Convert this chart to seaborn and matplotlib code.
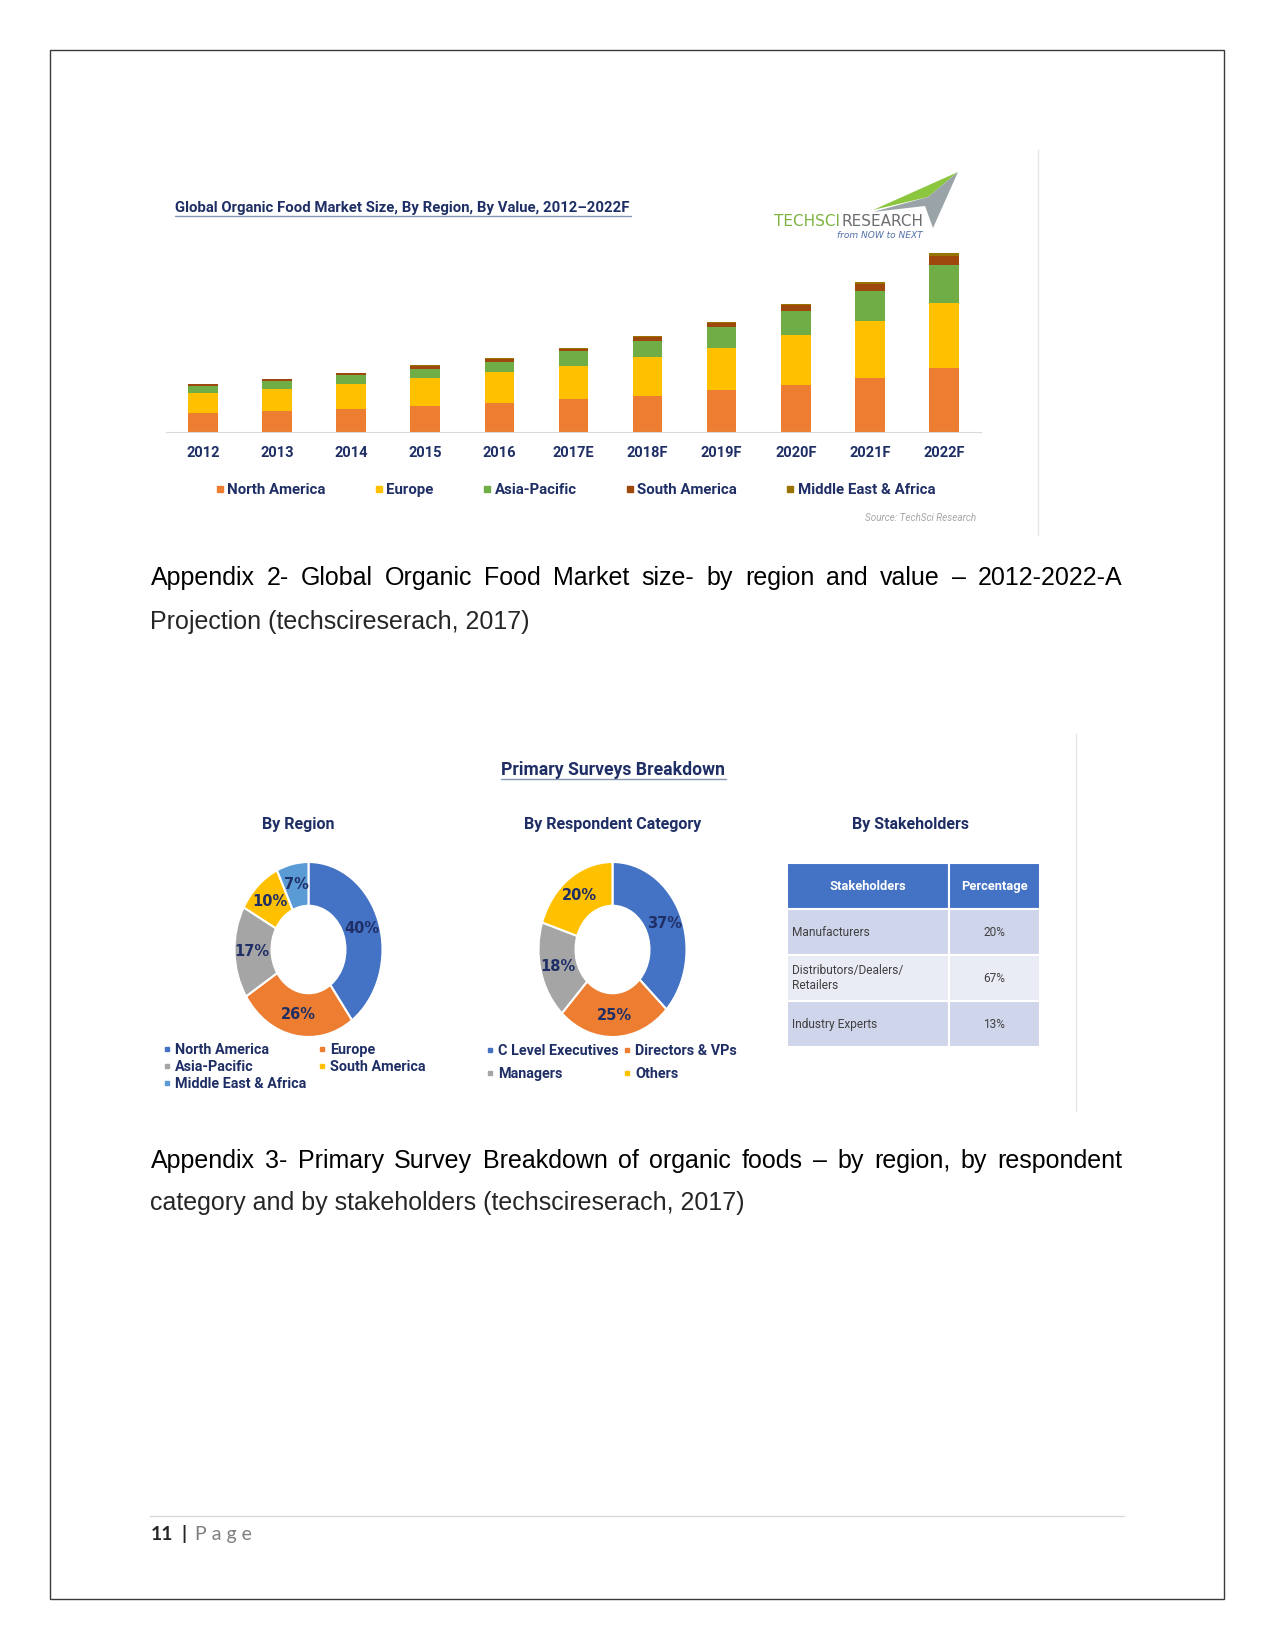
import matplotlib
matplotlib.use('Agg')
import matplotlib.pyplot as plt
from matplotlib.lines import Line2D
from matplotlib.patches import Polygon, Rectangle
import numpy as np
import pandas as pd
import seaborn as sns

# ---- data ----
years = ['2012', '2013', '2014', '2015', '2016', '2017E', '2018F', '2019F', '2020F', '2021F', '2022F']
north_america = [19, 21, 23, 26, 29, 33, 36, 42, 47, 54, 64]
europe = [20, 22, 25, 28, 31, 33, 39, 42, 50, 57, 65]
asia_pacific = [7, 8, 9, 9, 10, 15, 16, 21, 24, 30, 38]
south_america = [1.5, 1.5, 1.5, 3, 3, 2, 4, 4, 5.5, 7, 9]
middle_east_africa = [0.5, 0.5, 0.5, 1, 1, 1, 1, 1, 1.5, 2, 3]
bar_regions = ['North America', 'Europe', 'Asia-Pacific', 'South America', 'Middle East & Africa']

region_labels = ['North America', 'Europe', 'Asia-Pacific', 'South America', 'Middle East & Africa']
region_share = [40, 26, 17, 10, 7]

respondent_labels = ['C Level Executives', 'Directors & VPs', 'Managers', 'Others']
respondent_share = [37, 25, 18, 20]

stakeholders = ['Manufacturers', 'Distributors/Dealers/\nRetailers', 'Industry Experts']
stakeholder_pct = ['20%', '67%', '13%']

W, H = 1275, 1651
NAVY = '#1F2F66'
bar_colors = ['#ED7D31', '#FFC000', '#70AD47', '#9E480E', '#997300']
region_colors = ['#4472C4', '#ED7D31', '#A5A5A5', '#FFC000', '#5B9BD5']
resp_colors = ['#4472C4', '#ED7D31', '#A5A5A5', '#FFC000']

sns.set_style('white')
NARROW = ['Roboto', 'DejaVu Sans']
VERD = ['DejaVu Sans']
plt.rcParams['font.family'] = ['Liberation Sans', 'DejaVu Sans']


def rect(x0, y0, x1, y1):
    return [x0 / W, 1 - y1 / H, (x1 - x0) / W, (y1 - y0) / H]


def fx(x):
    return x / W


def fy(y):
    return 1 - y / H


fig = plt.figure(figsize=(W / 100, H / 100), dpi=100)
fig.patch.set_facecolor('white')

# page frame
fig.patches.append(Rectangle((fx(50.5), fy(1599)), (1224 - 50.5) / W, (1599 - 50.5) / H,
                             transform=fig.transFigure, fill=False, edgecolor='#3A3A3A', linewidth=1))

# ---- stacked bars ----
df = pd.DataFrame({'year': years, 'North America': north_america, 'Europe': europe,
                   'Asia-Pacific': asia_pacific, 'South America': south_america,
                   'Middle East & Africa': middle_east_africa})
cum = df[bar_regions].cumsum(axis=1)

ax = fig.add_axes(rect(166, 240, 981, 432))
for name, col in reversed(list(zip(bar_regions, bar_colors))):
    sns.barplot(x=df['year'], y=cum[name], color=col, width=0.4, saturation=1,
                errorbar=None, linewidth=0, ax=ax)
ax.set_xlim(-0.5, len(years) - 0.5)
ax.set_ylim(0, 192)
ax.set_xlabel('')
ax.set_ylabel('')
ax.set_yticks([])
for s in ['top', 'left', 'right']:
    ax.spines[s].set_visible(False)
ax.spines['bottom'].set_color('#D9D9D9')
ax.set_xticks(np.arange(-0.5, len(years), 1), minor=True)
ax.tick_params(axis='x', which='major', length=0, pad=10)
ax.tick_params(axis='x', which='minor', length=5, color='#D9D9D9', width=1)
for t in ax.get_xticklabels():
    t.set_fontfamily(NARROW)
    t.set_fontweight('bold')
    t.set_fontsize(10.5)
    t.set_color(NAVY)

handles = [Line2D([], [], marker='s', linestyle='', color=c, markersize=4.5) for c in bar_colors]
fig.legend(handles, bar_regions, loc='center left', bbox_to_anchor=(fx(216), fy(490)), ncol=5,
           frameon=False, handlelength=0.5, handletextpad=0.25, columnspacing=3.3, borderpad=0,
           borderaxespad=0, prop=dict(family=NARROW, weight='bold', size=10.8), labelcolor=NAVY)

fig.text(fx(175), fy(208), 'Global Organic Food Market Size, By Region, By Value, 2012\u20132022F',
         family=NARROW, weight='bold', size=10.75, color=NAVY, va='center')
fig.add_artist(Line2D([fx(175), fx(631)], [fy(216), fy(216)], color='#8497B0', linewidth=1))
fig.text(fx(976), fy(518), 'Source: TechSci Research', family=NARROW, style='italic',
         size=7.1, color='#A6A6A6', ha='right', va='center')

# logo
fig.patches.append(Polygon([(fx(873), fy(210)), (fx(958), fy(172)), (fx(928), fy(197))],
                           closed=True, transform=fig.transFigure, facecolor='#8CC63F', edgecolor='none'))
fig.patches.append(Polygon([(fx(873), fy(212)), (fx(928), fy(197)), (fx(958), fy(172)), (fx(933), fy(228)),
                            (fx(925), fy(206))],
                           closed=True, transform=fig.transFigure, facecolor='#9AA3A8', edgecolor='none'))
fig.text(fx(774), fy(221), 'TECHSCI', family=VERD, size=11, color='#7DB340', va='center')
fig.text(fx(841), fy(221), 'RESEARCH', family=VERD, size=11, color='#6D6E71', va='center')
fig.text(fx(923), fy(236), 'from NOW to NEXT', family=VERD, style='italic', size=6.5,
         color='#4F6FA8', ha='right', va='center')

fig.add_artist(Line2D([fx(1038), fx(1038)], [fy(150), fy(535)], color='#E6E6E6', linewidth=1))

# ---- captions ----
renderer = fig.canvas.get_renderer()


def justify(line, x0, x1, y, size=18):
    words = line.split(' ')
    texts = [fig.text(0, fy(y), w, size=size, va='center', color='black') for w in words]
    widths = [t.get_window_extent(renderer).width for t in texts]
    gap = (x1 - x0 - sum(widths)) / (len(words) - 1)
    x = x0
    for t, w in zip(texts, widths):
        t.set_x(fx(x))
        x += w + gap


justify('Appendix 2- Global Organic Food Market size- by region and value \u2013 2012-2022-A', 150.5, 1122.5, 578)
fig.text(fx(150.5), fy(622), 'Projection (techscireserach, 2017)', size=18, va='center')
justify('Appendix 3- Primary Survey Breakdown of organic foods \u2013 by region, by respondent', 150.5, 1122.5, 1161)
fig.text(fx(150.5), fy(1203), 'category and by stakeholders (techscireserach, 2017)', size=18, va='center')

# ---- survey breakdown ----
fig.text(fx(613), fy(770), 'Primary Surveys Breakdown', family=NARROW, weight='bold', size=12.7,
         color=NAVY, ha='center', va='center')
fig.add_artist(Line2D([fx(501), fx(726)], [fy(779), fy(779)], color='#8497B0', linewidth=1))
fig.add_artist(Line2D([fx(1076), fx(1076)], [fy(734), fy(1111)], color='#E6E6E6', linewidth=1))
for x, t in [(298, 'By Region'), (613, 'By Respondent Category'), (911, 'By Stakeholders')]:
    fig.text(fx(x), fy(824), t, family=NARROW, weight='bold', size=11.5, color=NAVY,
             ha='center', va='center')


def donut(cx, values, colors):
    a = fig.add_axes(rect(cx - 74, 862, cx + 74, 1037))
    a.pie(values, colors=colors, startangle=90, counterclock=False,
          wedgeprops=dict(width=0.5, edgecolor='white', linewidth=1.5),
          autopct=lambda p: f'{p:.0f}%', pctdistance=0.76,
          textprops=dict(family=VERD, weight='bold', size=10.5, color=NAVY))
    a.set_aspect('auto')
    a.set_xlim(-1, 1)
    a.set_ylim(-1, 1)
    return a


donut(308.5, region_share, region_colors)
donut(612.5, respondent_share, resp_colors)

# region legend: column-wise order
order = [0, 2, 4, 1, 3]
h1 = [Line2D([], [], marker='s', linestyle='', color=region_colors[i], markersize=3.5) for i in order]
fig.legend(h1, [region_labels[i] for i in order], loc='upper left', bbox_to_anchor=(fx(164), fy(1043)),
           ncol=2, frameon=False, handlelength=0.4, handletextpad=0.35, columnspacing=0.9,
           labelspacing=0.22, borderpad=0, borderaxespad=0,
           prop=dict(family=NARROW, weight='bold', size=10.4), labelcolor=NAVY)

order2 = [0, 2, 1, 3]
h2 = [Line2D([], [], marker='s', linestyle='', color=resp_colors[i], markersize=3.5) for i in order2]
fig.legend(h2, [respondent_labels[i] for i in order2], loc='upper left', bbox_to_anchor=(fx(487), fy(1044)),
           ncol=2, frameon=False, handlelength=0.4, handletextpad=0.35, columnspacing=0.4,
           labelspacing=0.64, borderpad=0, borderaxespad=0,
           prop=dict(family=NARROW, weight='bold', size=10.4), labelcolor=NAVY)

# stakeholder table
tax = fig.add_axes(rect(787, 863, 1040, 1047))
tax.axis('off')
cell_text = [[s, p] for s, p in zip(stakeholders, stakeholder_pct)]
row_cols = ['#CFD5EA', '#E9EBF5', '#CFD5EA']
tbl = tax.table(cellText=cell_text, colLabels=['Stakeholders', 'Percentage'],
                cellColours=[[c, c] for c in row_cols], colColours=['#4472C4', '#4472C4'],
                colWidths=[162 / 253, 91 / 253], bbox=[0, 0, 1, 1])
tbl.auto_set_font_size(False)
for (r, c), cell in tbl.get_celld().items():
    cell.set_edgecolor('white')
    cell.set_linewidth(1.5)
    txt = cell.get_text()
    txt.set_fontfamily(NARROW)
    if r == 0:
        txt.set_color('white')
        txt.set_fontweight('bold')
        txt.set_fontsize(9.3)
        txt.set_ha('center')
    else:
        txt.set_color('#404040')
        txt.set_fontsize(8.6)
        if c == 0:
            txt.set_ha('left')
            cell.PAD = 0.03
        else:
            txt.set_ha('center')
    cell._loc = 'left' if (r > 0 and c == 0) else 'center'

# footer
fig.add_artist(Line2D([fx(150), fx(1124)], [fy(1516), fy(1516)], color='#D9D9D9', linewidth=1))
fig.text(fx(151), fy(1534), '11', family=['Lato', 'DejaVu Sans'], weight='bold', size=14, va='center')
fig.text(fx(181), fy(1534), '|', family=['Lato', 'DejaVu Sans'], weight='bold', size=14, va='center')
fig.text(fx(195), fy(1534), 'P a g e', family=['Lato', 'DejaVu Sans'], size=14, va='center', color='#7F7F7F')

fig.savefig('out.png', dpi=100, facecolor='white')
